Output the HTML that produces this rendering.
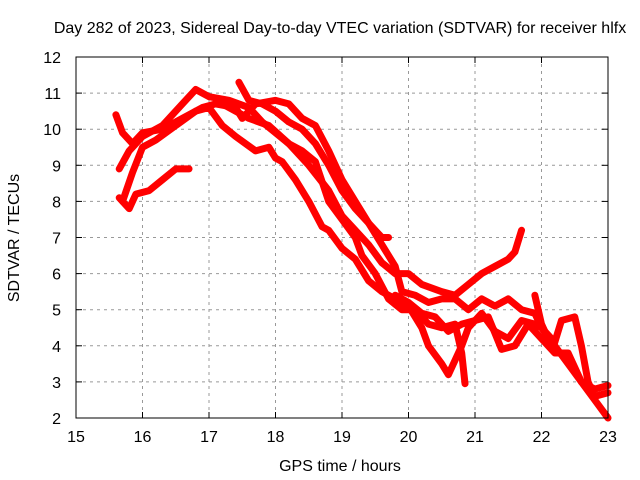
<!DOCTYPE html>
<html><head><meta charset="utf-8"><style>
body{margin:0;background:#fff;}
svg{display:block;font-family:"Liberation Sans",sans-serif;}
</style></head><body>
<svg id="c" width="640" height="480">
<rect width="640" height="480" fill="#fff"/>
<text x="340" y="33" font-size="16" text-anchor="middle">Day 282 of 2023, Sidereal Day-to-day VTEC variation (SDTVAR) for receiver hlfx</text>
<text x="340" y="471" font-size="16" text-anchor="middle">GPS time / hours</text>
<text x="19" y="238" font-size="16" text-anchor="middle" transform="rotate(-90 19 238)">SDTVAR / TECUs</text>
<g id="grid"></g>
<g id="ticks"></g>
<g id="series"></g>
<rect x="76" y="57" width="532" height="361" fill="none" stroke="#000"/>
</svg>
<script>
const xTicks=[15,16,17,18,19,20,21,22,23];
const yTicks=[2,3,4,5,6,7,8,9,10,11,12];
const s1=[[15.65,8.9],[15.8,9.4],[16,9.8],[16.3,10.1],[16.6,10.7],[16.8,11.1],[17,10.9],[17.3,10.8],[17.6,10.6],[17.8,10.2],[18,9.9],[18.2,9.6],[18.5,9.0],[18.8,8.3],[19,7.6],[19.2,7.2],[19.4,6.8],[19.6,6.3],[19.8,6.0],[20,6.0],[20.2,5.7],[20.5,5.5],[20.7,5.4],[20.9,5.7],[21.1,6.0],[21.3,6.2],[21.5,6.4],[21.6,6.6],[21.7,7.2]];
const s2=[[15.6,10.4],[15.7,9.9],[15.85,9.6],[16,9.9],[16.3,10.0],[16.6,10.3],[16.9,10.6],[17.1,10.7],[17.4,10.6],[17.5,10.3],[17.7,10.7],[18,10.8],[18.2,10.7],[18.4,10.3],[18.6,10.1],[18.8,9.4],[19,8.6],[19.2,8.0],[19.4,7.4],[19.6,6.8],[19.8,6.2],[19.9,5.5],[20.1,5.4],[20.3,5.2],[20.5,5.3],[20.7,5.3],[20.9,5.0],[21.1,5.3],[21.3,5.1],[21.5,5.3],[21.7,5.0],[21.9,4.9],[22,4.5],[22.2,4.0],[22.4,3.5],[22.6,3.0],[22.8,2.8],[23,2.9]];
const s3=[[15.65,8.1],[15.8,7.8],[15.9,8.2],[16.1,8.3],[16.3,8.6],[16.5,8.9],[16.7,8.9]];
const s4=[[15.7,8.0],[15.85,8.8],[16,9.5],[16.2,9.7],[16.5,10.1],[16.8,10.5],[17,10.6],[17.2,10.1],[17.4,9.8],[17.7,9.4],[17.9,9.5],[18,9.2],[18.1,9.1],[18.3,8.6],[18.5,8.0],[18.7,7.3],[18.8,7.2],[19,6.7],[19.2,6.4],[19.4,5.8],[19.6,5.5],[19.8,5.3],[19.9,5.1],[20,5.1],[20.1,4.8],[20.2,4.5],[20.3,4.0],[20.5,3.5],[20.6,3.2],[20.8,4.0],[20.9,4.5],[21.1,4.9],[21.3,4.4],[21.5,4.2],[21.7,4.7],[21.9,4.6],[22,4.5],[22.2,4.1],[22.3,4.7],[22.5,4.8],[22.6,4.0],[22.7,3.0],[22.8,2.6],[23,2.7]];
const s5=[[17.45,11.3],[17.6,10.8],[17.8,10.7],[18,10.5],[18.2,10.2],[18.4,10.0],[18.6,9.6],[18.8,9.0],[19,8.3],[19.2,7.8],[19.4,7.4],[19.6,7.0],[19.7,7.0]];
const s6=[[19.8,5.4],[20,5.2],[20.2,4.9],[20.4,4.8],[20.6,4.4],[20.8,4.6],[21,4.7],[21.2,4.8],[21.4,3.9],[21.6,4.0],[21.8,4.6],[22,4.2],[22.2,3.8],[22.4,3.8],[22.6,3.0],[22.8,2.5],[23,2.0]];
const s7=[[17.2,10.7],[17.6,10.3],[17.9,10.1],[18.2,9.6],[18.4,9.4],[18.6,9.1],[18.8,8.0],[19,7.5],[19.2,7.0],[19.3,6.5],[19.5,6.0],[19.7,5.3],[19.9,5.0],[20.1,5.0],[20.3,4.6],[20.5,4.5],[20.7,4.6],[20.8,3.8],[20.85,2.95]];
const s8=[[21.9,5.4],[22.0,4.6],[22.1,4.2]];
const allSeries=[s1,s2,s3,s4,s5,s6,s7,s8];
const X=h=>76+(h-15)*66.5, Y=v=>418-(v-2)*36.1;
const NS="http://www.w3.org/2000/svg";
const grid=document.getElementById('grid'),ticks=document.getElementById('ticks'),ser=document.getElementById('series');
function mk(t,a,p){const e=document.createElementNS(NS,t);for(const k in a)e.setAttribute(k,a[k]);p.appendChild(e);return e;}
xTicks.forEach(t=>{const x=X(t);
 if(t>15&&t<23){const g=mk('line',{x1:x,x2:x,y1:57,y2:418,stroke:'#999','stroke-dasharray':'3,4'},grid);
 
 }
 mk('line',{x1:x,x2:x,y1:418,y2:412,stroke:'#000'},ticks);mk('line',{x1:x,x2:x,y1:57,y2:63,stroke:'#000'},ticks);
 const l=mk('text',{x:x,y:442,'font-size':16,'text-anchor':'middle'},ticks);l.textContent=t;
 
 });
yTicks.forEach(t=>{const y=Y(t);
 if(t>2&&t<12){const g=mk('line',{x1:76,x2:608,y1:y,y2:y,stroke:'#999','stroke-dasharray':'3,4'},grid);
 
 }
 mk('line',{x1:76,x2:82,y1:y,y2:y,stroke:'#000'},ticks);mk('line',{x1:608,x2:602,y1:y,y2:y,stroke:'#000'},ticks);
 const l=mk('text',{x:61,y:y+6,'font-size':16,'text-anchor':'end'},ticks);l.textContent=t;
 
 });
allSeries.forEach((s,i)=>{const p=mk('polyline',{points:s.map(d=>X(d[0])+','+Y(d[1])).join(' '),fill:'none',stroke:'#f00','stroke-width':7,'stroke-linejoin':'round','stroke-linecap':'round'},ser);
 
 });
</script>
</body></html>
